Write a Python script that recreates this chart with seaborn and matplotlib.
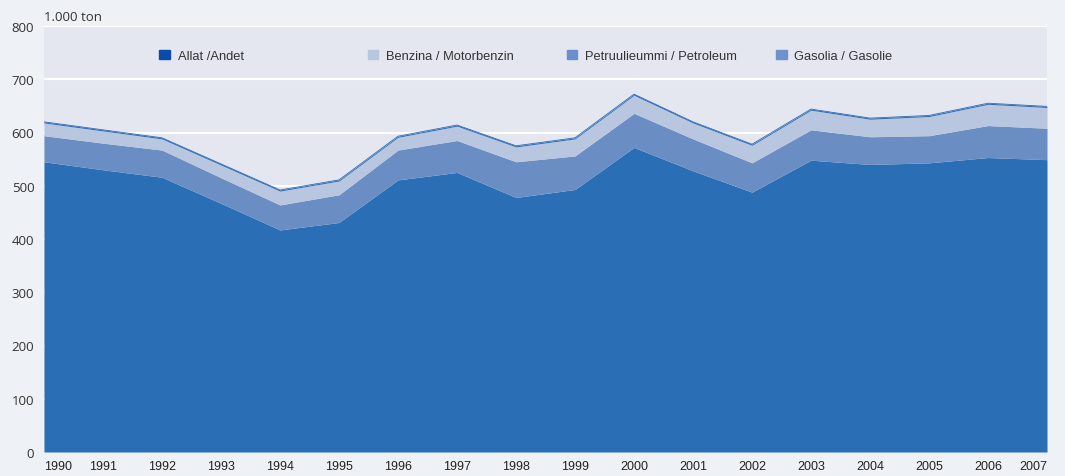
import matplotlib
matplotlib.use('Agg')
import matplotlib.pyplot as plt
import matplotlib.patches as mpatches
import seaborn as sns
import pandas as pd

# data (1.000 ton)
years = list(range(1990, 2008))
gasolia = [545, 530, 516, 467, 417, 431, 511, 525, 478, 493, 572, 528, 488, 548, 540, 543, 553, 549]
petroleum = [49, 50, 51, 48, 47, 52, 56, 60, 67, 63, 64, 60, 55, 57, 52, 51, 60, 59]
benzina = [24, 23, 21, 24, 26, 26, 24, 27, 28, 32, 34, 30, 33, 37, 33, 36, 40, 39]
allat = [2, 2, 2, 2, 2, 2, 2, 2, 2, 2, 2, 2, 2, 2, 2, 2, 2, 2]

labels = ['Allat /Andet', 'Benzina / Motorbenzin', 'Petruulieummi / Petroleum', 'Gasolia / Gasolie']
legend_colors = ['#0a4aa8', '#b9c6df', '#6b8fcc', '#6e93cc']

df = pd.DataFrame({'year': years, 'gasolia': gasolia, 'petroleum': petroleum,
                   'benzina': benzina, 'allat': allat})
df['total'] = df[['gasolia', 'petroleum', 'benzina', 'allat']].sum(axis=1)

sns.set_theme(style='white')
plt.rcParams['font.family'] = ['Open Sans', 'DejaVu Sans']
narrow = ['Liberation Sans', 'DejaVu Sans']

fig = plt.figure(figsize=(10.65, 4.77), dpi=100, facecolor='#eef1f6')
ax = fig.add_axes([44 / 1065, 24 / 477, 1003 / 1065, 426 / 477])
ax.set_facecolor('#e4e6f0')

# gridlines (white, visible above areas)
for v in range(100, 900, 100):
    ax.axhline(v, color='white', lw=1.6, zorder=1)

ax.stackplot(df['year'], df['gasolia'], df['petroleum'], df['benzina'], df['allat'],
             colors=['#2a6fb6', '#6a8ec4', '#b9c6df', '#2d6cb4'], lw=0, zorder=2)
sns.lineplot(x='year', y='total', data=df, ax=ax, color='#2d6cb4', lw=0.6, zorder=3)

ax.set_xlim(1990, 2007)
ax.set_ylim(0, 800)
ax.set_yticks(range(0, 900, 100))
ax.set_xticks(years)
ax.set_xlabel('')
ax.set_ylabel('')
ax.tick_params(axis='y', labelsize=9.5, colors='#333333', length=0, pad=7)
ax.tick_params(axis='x', length=0, pad=6)
xl = ax.set_xticklabels([str(y) for y in years], fontsize=9, color='#222222', family=narrow)
xl[0].set_ha('left')
xl[-1].set_ha('right')
for s in ax.spines.values():
    s.set_visible(False)

ax.text(0.0, 1.013, '1.000 ton', transform=ax.transAxes, fontsize=9.5,
        color='#333333', ha='left', va='baseline')

# legend, one entry per position
legend_x = [0.110, 0.318, 0.516, 0.725]
for lab, col, xpos in zip(labels, legend_colors, legend_x):
    h = mpatches.Patch(color=col, label=lab)
    leg = ax.legend(handles=[h], loc='center left', bbox_to_anchor=(xpos, 0.930),
                    frameon=False, handlelength=0.8, handleheight=0.8,
                    handletextpad=0.6, borderaxespad=0,
                    prop={'family': narrow, 'size': 9.3})
    for t in leg.get_texts():
        t.set_color('#333333')
    ax.add_artist(leg)
ax.legend_ = None

plt.savefig('out.png', dpi=100, facecolor=fig.get_facecolor())
